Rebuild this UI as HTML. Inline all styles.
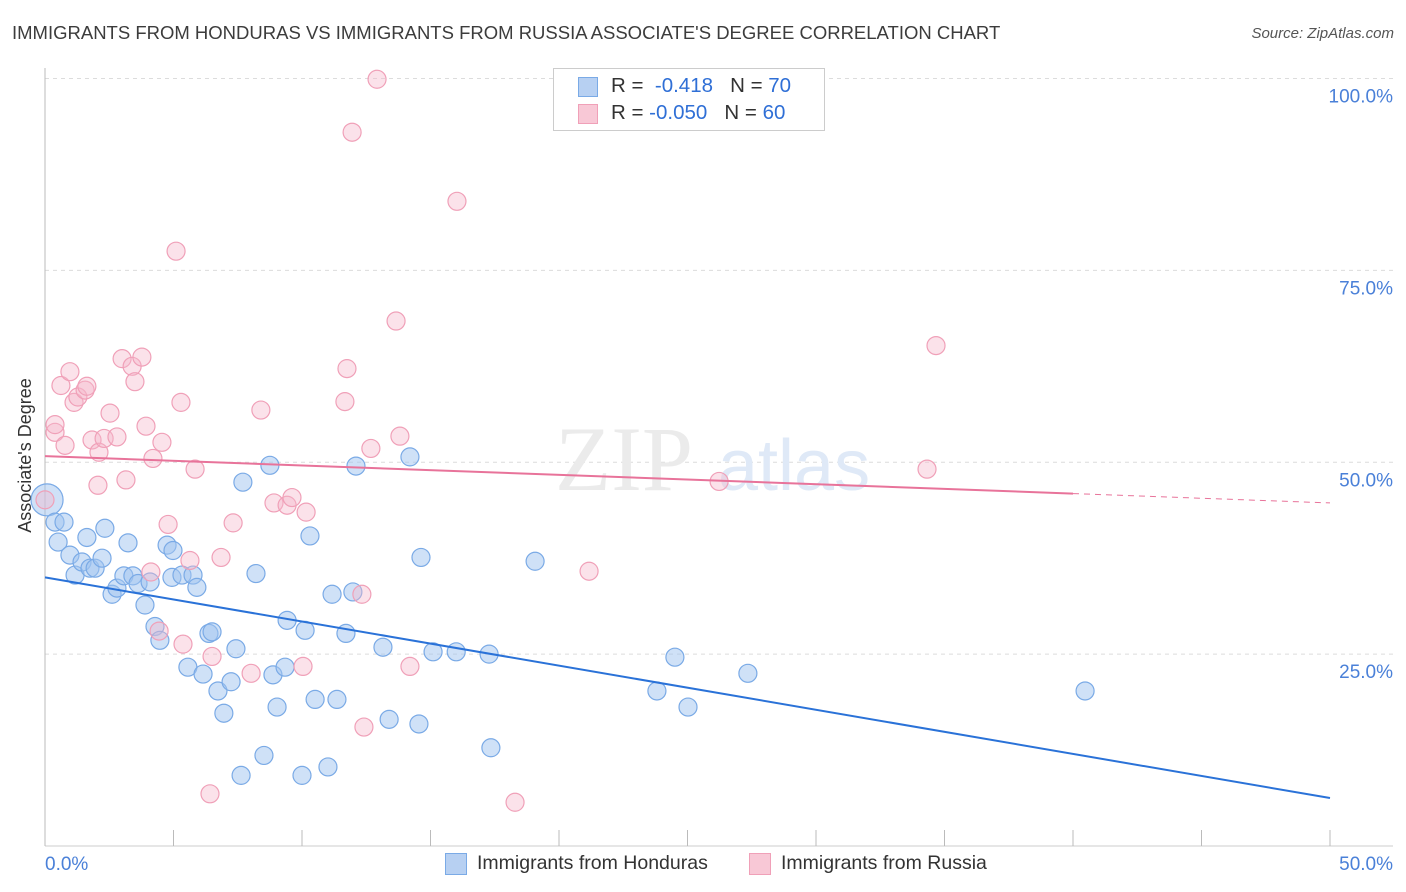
<!DOCTYPE html>
<html><head><meta charset="utf-8"><style>
body{margin:0;background:#fff;font-family:"Liberation Sans",sans-serif;}
#wrap{position:relative;width:1406px;height:892px;overflow:hidden;}
.t{position:absolute;white-space:nowrap;}
</style></head><body>
<div id="wrap">
<div class="t" style="left:12px;top:22px;font-size:18.5px;color:#3c3c3c;">IMMIGRANTS FROM HONDURAS VS IMMIGRANTS FROM RUSSIA ASSOCIATE'S DEGREE CORRELATION CHART</div>
<div class="t" style="right:12px;top:25px;font-size:15px;color:#555;font-style:italic;">Source: ZipAtlas.com</div>
<div class="t" style="left:-52px;top:445px;font-size:18px;color:#333;transform:rotate(-90deg);">Associate's Degree</div>
<svg id="svg" width="1406" height="892" style="position:absolute;left:0;top:0"></svg>
<div style="position:absolute;left:553px;top:68px;width:270px;height:61px;border:1px solid #ccc;background:#fff;">
 <div style="position:absolute;left:24px;top:8px;width:18px;height:18px;background:#b7d0f2;border:1px solid #7aaae6;"></div>
 <div class="t" style="left:57px;top:5px;font-size:20.5px;color:#333;">R = <span style="color:#2f6fd6">&nbsp;-0.418</span>&nbsp;&nbsp;&nbsp;N = <span style="color:#2f6fd6">70</span></div>
 <div style="position:absolute;left:24px;top:35px;width:18px;height:18px;background:#f8c8d6;border:1px solid #f0a0b8;"></div>
 <div class="t" style="left:57px;top:32px;font-size:20.5px;color:#333;">R = <span style="color:#2f6fd6">-0.050</span>&nbsp;&nbsp;&nbsp;N = <span style="color:#2f6fd6">60</span></div>
</div>
<div style="position:absolute;left:445px;top:853px;">
 <div style="position:absolute;left:0;top:0;width:20px;height:20px;background:#b7d0f2;border:1px solid #7aaae6;"></div>
 <div class="t" style="left:32px;top:-1px;font-size:19.5px;color:#333;">Immigrants from Honduras</div></div>
<div style="position:absolute;left:749px;top:853px;">
 <div style="position:absolute;left:0;top:0;width:20px;height:20px;background:#f8c8d6;border:1px solid #f0a0b8;"></div>
 <div class="t" style="left:32px;top:-1px;font-size:19.5px;color:#333;">Immigrants from Russia</div></div>
</div>
<script>
const blueX=[0.08,0.39,0.74,0.51,0.97,1.17,1.44,1.63,1.75,1.95,2.22,2.33,2.61,2.80,3.07,3.23,3.42,3.62,3.89,4.09,4.28,4.47,4.75,4.98,4.94,5.33,5.76,5.91,5.56,6.15,6.38,6.50,6.73,6.96,7.24,7.43,7.63,7.70,8.21,8.52,8.75,8.87,9.03,9.34,9.42,10.0,10.12,10.31,10.51,11.01,11.17,11.36,11.71,11.98,12.10,13.15,13.39,14.2,14.55,14.63,15.1,16.0,17.28,17.35,19.07,23.81,24.51,25.02,27.35,40.47];
const blueY=[45.1,42.2,42.2,39.6,37.9,35.3,37.0,40.2,36.2,36.2,37.5,41.4,32.8,33.6,35.2,39.5,35.2,34.2,31.4,34.4,28.6,26.8,39.2,38.5,35.0,35.3,35.3,33.7,23.3,22.4,27.7,27.9,20.2,17.3,21.4,25.7,9.2,47.4,35.5,11.8,49.6,22.3,18.1,23.3,29.4,9.2,28.1,40.4,19.1,10.3,32.8,19.1,27.7,33.1,49.5,25.9,16.5,50.7,15.9,37.6,25.3,25.3,25.0,12.8,37.1,20.2,24.6,18.1,22.5,20.2];
const pinkX=[12.92,11.95,16.03,5.10,13.66,34.67,0,0.39,0.39,0.78,0.62,0.97,1.13,1.28,1.56,1.63,1.83,2.10,2.06,2.30,2.53,2.80,3.0,3.15,3.39,3.50,3.77,3.93,4.20,4.55,4.79,5.29,5.37,5.64,5.84,6.5,6.42,6.85,7.32,8.02,8.40,8.91,9.42,9.61,10.16,10.04,11.67,11.75,12.33,12.41,12.68,13.81,14.2,18.29,21.17,26.23,34.32,4.12,4.44];
const pinkY=[99.9,93.0,84.0,77.5,68.4,65.2,45.1,53.9,54.9,52.2,60.0,61.8,57.8,58.5,59.4,59.9,52.9,51.3,47.0,53.1,56.4,53.3,63.5,47.7,62.5,60.5,63.7,54.7,50.5,52.6,41.9,57.8,26.3,37.2,49.1,24.7,6.8,37.6,42.1,22.5,56.8,44.7,44.4,45.4,43.5,23.4,57.9,62.2,32.8,15.5,51.8,53.4,23.4,5.7,35.8,47.5,49.1,35.7,28.0];
const blueTrend=[35.0,6.25];
const pinkTrend=[50.8,44.7];
const yTicks=[25,50,75,100];
const NS='http://www.w3.org/2000/svg';
const svg=document.getElementById('svg');
const sx=v=>45+v*25.7, sy=v=>846-v*7.675;
function mk(t,a){const e=document.createElementNS(NS,t);for(const k in a)e.setAttribute(k,a[k]);svg.appendChild(e);return e;}
yTicks.forEach(v=>{const g=mk('line',{x1:45,x2:1393,y1:sy(v),y2:sy(v),stroke:'#dcdcdc','stroke-dasharray':'4,4'});


const t=mk('text',{x:1393,y:sy(v)+24,'text-anchor':'end','font-size':19,fill:'#4a80d8','font-family':'Liberation Sans'});t.textContent=v.toFixed(1)+'%';

});
mk('line',{x1:45,x2:45,y1:68,y2:846,stroke:'#bbb'});
mk('line',{x1:45,x2:1393,y1:846,y2:846,stroke:'#ccc'});
for(let i=0;i<=10;i++){const l=mk('line',{x1:sx(i*5),x2:sx(i*5),y1:830,y2:846,stroke:'#bbb'});

}
[[0,'0.0%','start',45],[50,'50.0%','end',1393]].forEach(d=>{const t=mk('text',{x:d[3],y:870,'text-anchor':d[2],'font-size':19,fill:'#4a80d8','font-family':'Liberation Sans'});t.textContent=d[1];

});
const w1=mk('text',{x:555,y:490,'font-size':92,fill:'#ebebeb','font-family':'Liberation Serif'});w1.textContent='ZIP';


const w2=mk('text',{x:718,y:490,'font-size':72,fill:'#dfe9f7','font-family':'Liberation Sans'});w2.textContent='atlas';


function pts(X,Y,fill,stroke,name){X.forEach((x,i)=>{const r=(i===0&&x<0.1)?16:9;const c=mk('circle',{cx:sx(x),cy:sy(Y[i]),r:r,fill:fill,stroke:stroke,'stroke-width':1.2});

});}
pts(blueX,blueY,'rgba(160,196,240,0.5)','#7aaae6','honduras-point');
pts(pinkX,pinkY,'rgba(246,182,202,0.4)','#f0a0b8','russia-point');
const bl=mk('line',{x1:sx(0),y1:sy(blueTrend[0]),x2:sx(50),y2:sy(blueTrend[1]),stroke:'#2a72d8','stroke-width':2});


const pAt=x=>pinkTrend[0]+(pinkTrend[1]-pinkTrend[0])*x/50;
const pl=mk('line',{x1:sx(0),y1:sy(pAt(0)),x2:sx(40),y2:sy(pAt(40)),stroke:'#e8739a','stroke-width':2});


const pd=mk('line',{x1:sx(40),y1:sy(pAt(40)),x2:sx(50),y2:sy(pAt(50)),stroke:'#e8739a','stroke-width':1,'stroke-dasharray':'6,5'});


</script>
</body></html>
